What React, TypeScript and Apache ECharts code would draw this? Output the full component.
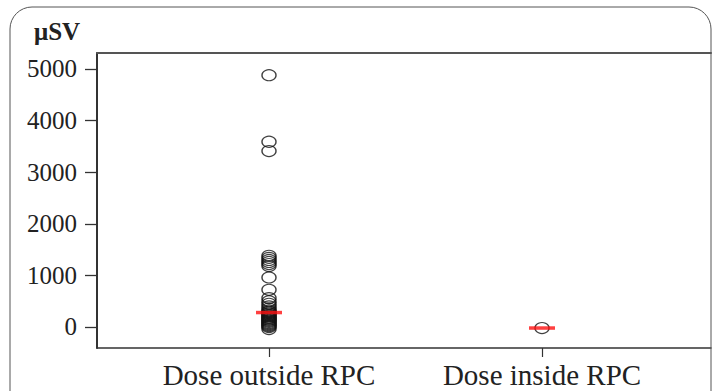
import React, { useEffect, useRef } from "react";
import * as echarts from "echarts";

const categories = ["Dose outside RPC", "Dose inside RPC"];
const categoryPositions = [1, 2];
const yTickValues = [0, 1000, 2000, 3000, 4000, 5000];
const doseOutside = [
  4880, 3590, 3410, 1380, 1340, 1300, 1260, 1220, 1180, 960, 720, 560, 500, 450,
  400, 360, 320, 300, 280, 260, 240, 220, 200, 180, 160, 140, 120, 100, 80, 60,
  40, 20, 0, -40,
];
const doseInside = [-20];
const medians = [280, -20];

const FONT = "'Liberation Serif', 'DejaVu Serif', serif";

export default function App() {
  const ref = useRef<HTMLDivElement>(null);
  useEffect(() => {
    document.body.style.margin = "0";
    if (!ref.current) return;
    const chart = echarts.init(ref.current, null, { renderer: "svg" });
    const circleStyle = {
      color: "rgba(0,0,0,0)",
      borderColor: "#111",
      borderWidth: 1.3,
    };
    chart.setOption({
      animation: false,
      backgroundColor: "#ffffff",
      title: {
        text: "μSV",
        left: 34,
        top: 19,
        padding: 0,
        textStyle: {
          fontFamily: FONT,
          fontSize: 25,
          fontWeight: "bold",
          color: "#222",
        },
      },
      grid: { left: 97, right: 1, top: 53, bottom: 43, containLabel: false },
      xAxis: [
        {
          type: "value",
          min: 0.37,
          max: 2.619,
          splitLine: { show: false },
          axisLine: {
            show: true,
            onZero: false,
            lineStyle: { color: "#333", width: 1.5 },
          },
          axisTick: {
            show: true,
            customValues: categoryPositions,
            length: 9,
            lineStyle: { color: "#333", width: 1.2 },
          },
          axisLabel: {
            customValues: categoryPositions,
            formatter: (v: number) => categories[Math.round(v) - 1] ?? "",
            fontFamily: FONT,
            fontSize: 29,
            color: "#222",
            margin: 12,
          },
        },
        {
          type: "value",
          position: "top",
          min: 0.37,
          max: 2.619,
          splitLine: { show: false },
          axisLine: {
            show: true,
            onZero: false,
            lineStyle: { color: "#555", width: 2 },
          },
          axisTick: { show: false },
          axisLabel: { show: false },
        },
      ],
      yAxis: {
        type: "value",
        min: -407,
        max: 5310,
        splitLine: { show: false },
        axisLine: {
          show: true,
          onZero: false,
          lineStyle: { color: "#333", width: 2 },
        },
        axisTick: {
          show: true,
          customValues: yTickValues,
          length: 12,
          lineStyle: { color: "#333", width: 1.3 },
        },
        axisLabel: {
          customValues: yTickValues,
          formatter: (v: number) => String(v),
          fontFamily: FONT,
          fontSize: 25,
          color: "#222",
          margin: 20,
        },
      },
      graphic: [
        {
          type: "rect",
          shape: { x: 10, y: 7, width: 701, height: 420, r: [22, 22, 0, 0] },
          style: { fill: "none", stroke: "#555", lineWidth: 1 },
          silent: true,
          z: 100,
        },
      ],
      series: [
        {
          type: "scatter",
          symbol: "circle",
          symbolSize: [14, 11],
          itemStyle: circleStyle,
          data: doseOutside.map((v) => [categoryPositions[0], v]),
          z: 2,
        },
        {
          type: "scatter",
          symbol: "circle",
          symbolSize: [14, 11],
          itemStyle: circleStyle,
          data: doseInside.map((v) => [categoryPositions[1], v]),
          z: 2,
        },
        {
          type: "scatter",
          symbol: "rect",
          symbolSize: [26, 3.5],
          itemStyle: { color: "#ff1010" },
          data: medians.map((v, i) => [categoryPositions[i], v]),
          z: 5,
        },
      ],
    });
    return () => chart.dispose();
  }, []);
  return <div ref={ref} style={{ width: 712, height: 391 }} />;
}
